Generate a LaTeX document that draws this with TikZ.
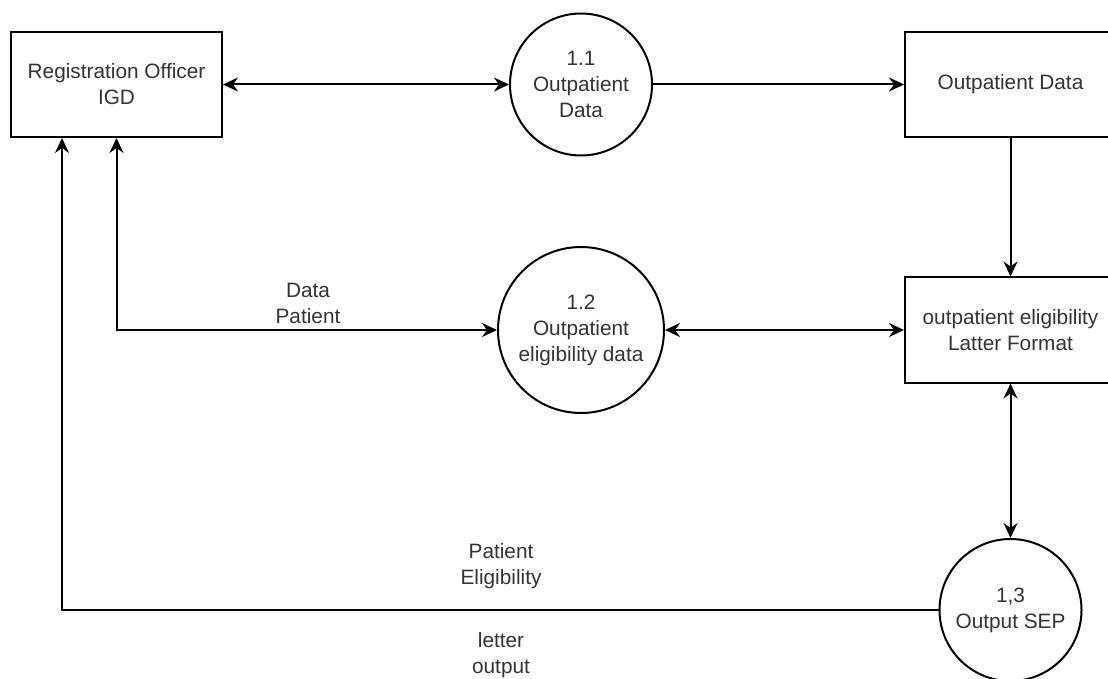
\documentclass[tikz,border=0pt]{standalone}
\usepackage{fontspec}
\setmainfont{Liberation Sans}
\usetikzlibrary{arrows.meta}

\begin{document}
\begin{tikzpicture}[
    x=0.5pt, y=-0.5pt,
    entity/.style={draw, line width=1pt, minimum width=105.5pt, minimum height=52.5pt, align=center, inner sep=1pt},
    process/.style={circle, draw, line width=1pt, align=center, inner sep=0pt},
    flowtext/.style={align=center, inner sep=0pt},
    arrow/.style={->, line width=1pt, >={Stealth[length=7.5pt, width=7pt, inset=2.5pt]}},
    doublearrow/.style={<->, line width=1pt, >={Stealth[length=7.5pt, width=7pt, inset=2.5pt]}},
    every node/.style={font=\fontsize{10.4}{13}\selectfont, text=black!80}
]
\useasboundingbox (0,0) rectangle (1108,679);

% Nodes
\node[entity] (officer) at (116.5,84.5) {Registration Officer\\IGD};
\node[process, minimum size=71pt] (p11) at (581,84.5) {1.1\\Outpatient\\Data};
\node[entity] (store) at (1010.5,84.5) {Outpatient Data};
\node[process, minimum size=83pt] (p12) at (581,330) {1.2\\Outpatient\\eligibility data};
\node[entity] (format) at (1010.5,330) {outpatient eligibility\\Latter Format};
\node[process, minimum size=71pt] (p13) at (1010.5,610) {1,3\\Output SEP};

% Labels
\node[flowtext] (datapatient) at (308,303) {Data\\Patient};
\node[flowtext] (eligibility) at (501,566) {Patient\\Eligibility};
\node[flowtext] (letter) at (501,655) {letter\\output};

% Edges
\draw[doublearrow] (officer) -- (p11);
\draw[arrow] (p11) -- (store);
\draw[arrow] (store) -- (format);
\draw[doublearrow] (p12) -- (format);
\draw[doublearrow] (format) -- (p13);
\draw[doublearrow] (officer.south) |- (p12);
\draw[arrow] (p13) -| ([xshift=26pt]officer.south west);
\end{tikzpicture}
\end{document}
